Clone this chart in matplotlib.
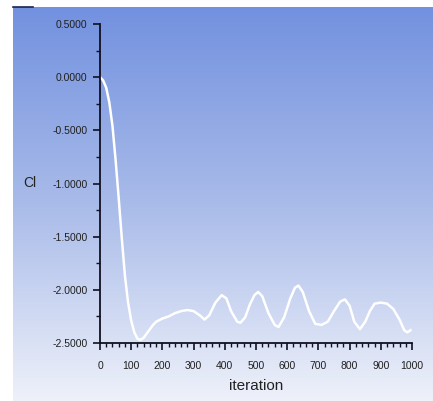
import numpy as np
import matplotlib.pyplot as plt
from matplotlib.ticker import MultipleLocator, FormatStrFormatter
from matplotlib.colors import LinearSegmentedColormap

# Cl history
iteration = [0, 10, 20, 30, 40, 50, 60, 70, 80, 90, 100, 110, 120, 130, 140,
             150, 160, 170, 180, 200, 220, 240, 260, 280, 300, 320, 335, 350,
             370, 390, 405, 420, 440, 450, 465, 480, 495, 507, 520, 540, 560,
             572, 590, 610, 625, 636, 650, 670, 690, 710, 730, 750, 770, 785,
             800, 815, 833, 850, 865, 880, 900, 920, 940, 960, 975, 985, 995]
cl = [0.00, -0.03, -0.10, -0.24, -0.46, -0.78, -1.14, -1.52, -1.87, -2.12,
      -2.29, -2.40, -2.46, -2.47, -2.45, -2.41, -2.37, -2.33, -2.30, -2.27,
      -2.25, -2.22, -2.20, -2.19, -2.20, -2.24, -2.28, -2.24, -2.12, -2.05,
      -2.08, -2.20, -2.30, -2.31, -2.26, -2.14, -2.05, -2.02, -2.06, -2.22,
      -2.33, -2.35, -2.26, -2.08, -1.98, -1.96, -2.02, -2.20, -2.32, -2.33,
      -2.30, -2.20, -2.11, -2.09, -2.15, -2.30, -2.37, -2.30, -2.20, -2.13,
      -2.12, -2.13, -2.18, -2.28, -2.38, -2.40, -2.38]

W, H = 433, 401
fig = plt.figure(figsize=(W / 100, H / 100), dpi=100, facecolor='white')

# gradient background panel
bg = fig.add_axes([13 / W, 0, 420 / W, 394 / H], zorder=0)
cmap = LinearSegmentedColormap.from_list('bg', ['#7291df', '#a9bbe9', '#eef1fa'])
bg.imshow(np.linspace(0, 1, 256).reshape(-1, 1), aspect='auto', cmap=cmap,
          extent=[0, 1, 0, 1])
bg.axis('off')
fig.add_artist(plt.Line2D([13 / W, 33 / W], [1 - 7 / H, 1 - 7 / H],
                          color='#1a2450', lw=1.2, transform=fig.transFigure))

ax = fig.add_axes([100 / W, 1 - 343 / H, 312 / W, 319 / H], zorder=1)
ax.patch.set_alpha(0)
ax.plot(iteration, cl, color='white', lw=1.8)

ax.set_xlim(0, 1000)
ax.set_ylim(-2.5, 0.5)
ax.xaxis.set_major_locator(MultipleLocator(100))
ax.xaxis.set_minor_locator(MultipleLocator(20))
ax.yaxis.set_major_locator(MultipleLocator(0.5))
ax.yaxis.set_minor_locator(MultipleLocator(0.25))
ax.yaxis.set_major_formatter(FormatStrFormatter('%.4f'))

for s in ['top', 'right']:
    ax.spines[s].set_visible(False)
for s in ['left', 'bottom']:
    ax.spines[s].set_color('#101020')
    ax.spines[s].set_linewidth(1.3)

ax.tick_params(which='major', length=5, width=1.2, color='#101020',
               labelsize=7.5, labelcolor='#202020')
ax.tick_params(which='minor', length=3, width=1.0, color='#101020')
ax.tick_params(axis='x', which='major', pad=8)
ax.tick_params(axis='y', which='major', pad=4)
for lab in ax.get_xticklabels() + ax.get_yticklabels():
    lab.set_fontfamily('Liberation Sans')

ax.set_xlabel('iteration', fontsize=11, color='#222222', family='Liberation Sans',
              labelpad=6)
ax.set_ylabel('Cl', fontsize=10, color='#222222', family='Liberation Sans',
              rotation=0, labelpad=8, va='center')
ax.yaxis.set_label_coords(-70 / 312, (343 - 183) / 319)

fig.savefig('out.png', dpi=100)
